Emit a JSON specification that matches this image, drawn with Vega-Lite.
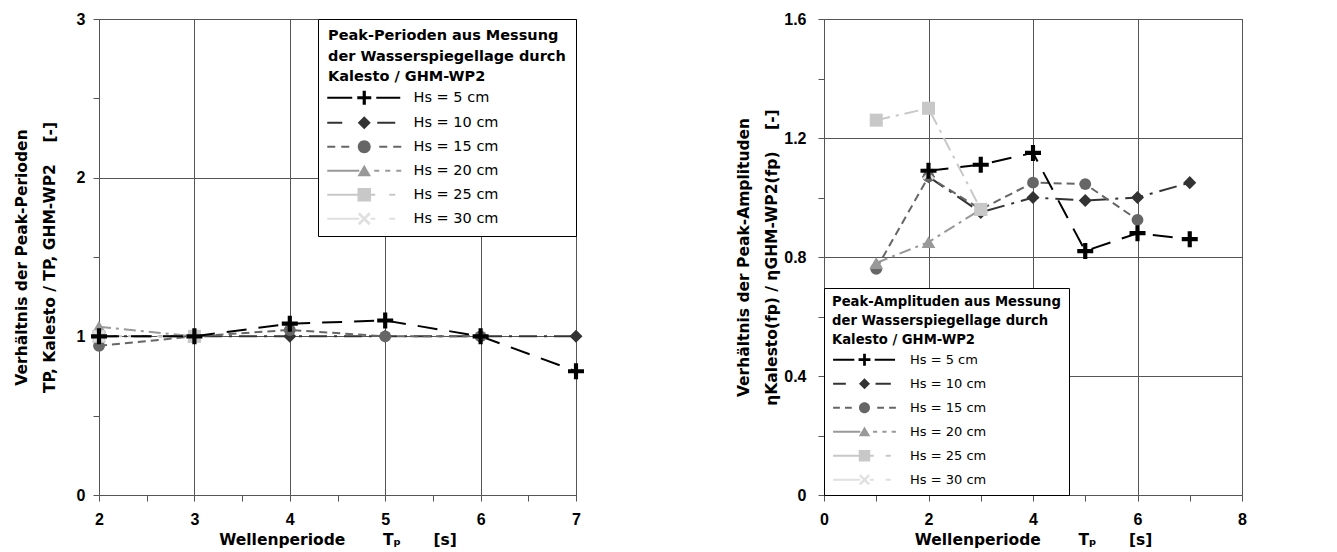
{
  "$schema": "https://vega.github.io/schema/vega-lite/v6.json",
  "background": "white",
  "padding": {"left": 13, "top": 10, "right": 0, "bottom": 0},
  "spacing": 151,
  "datasets": {
    "perioden": [
      {"Hs": "Hs = 10 cm", "T": 2, "v": 1.0},
      {"Hs": "Hs = 10 cm", "T": 3, "v": 1.0},
      {"Hs": "Hs = 10 cm", "T": 4, "v": 1.0},
      {"Hs": "Hs = 10 cm", "T": 5, "v": 1.0},
      {"Hs": "Hs = 10 cm", "T": 6, "v": 1.0},
      {"Hs": "Hs = 10 cm", "T": 7, "v": 1.0},
      {"Hs": "Hs = 15 cm", "T": 2, "v": 0.94},
      {"Hs": "Hs = 15 cm", "T": 3, "v": 1.0},
      {"Hs": "Hs = 15 cm", "T": 4, "v": 1.04},
      {"Hs": "Hs = 15 cm", "T": 5, "v": 1.0},
      {"Hs": "Hs = 15 cm", "T": 6, "v": 1.0},
      {"Hs": "Hs = 20 cm", "T": 2, "v": 1.06},
      {"Hs": "Hs = 20 cm", "T": 3, "v": 1.0},
      {"Hs": "Hs = 25 cm", "T": 2, "v": 1.0},
      {"Hs": "Hs = 25 cm", "T": 3, "v": 1.0},
      {"Hs": "Hs = 30 cm", "T": 2, "v": 1.0},
      {"Hs": "Hs = 5 cm", "T": 2, "v": 1.0},
      {"Hs": "Hs = 5 cm", "T": 3, "v": 1.0},
      {"Hs": "Hs = 5 cm", "T": 4, "v": 1.08},
      {"Hs": "Hs = 5 cm", "T": 5, "v": 1.1},
      {"Hs": "Hs = 5 cm", "T": 6, "v": 1.0},
      {"Hs": "Hs = 5 cm", "T": 7, "v": 0.78}
    ],
    "amplituden": [
      {"Hs": "Hs = 10 cm", "T": 2, "v": 1.07},
      {"Hs": "Hs = 10 cm", "T": 3, "v": 0.95},
      {"Hs": "Hs = 10 cm", "T": 4, "v": 1.0},
      {"Hs": "Hs = 10 cm", "T": 5, "v": 0.99},
      {"Hs": "Hs = 10 cm", "T": 6, "v": 1.0},
      {"Hs": "Hs = 10 cm", "T": 7, "v": 1.05},
      {"Hs": "Hs = 15 cm", "T": 1, "v": 0.76},
      {"Hs": "Hs = 15 cm", "T": 2, "v": 1.07},
      {"Hs": "Hs = 15 cm", "T": 3, "v": 0.96},
      {"Hs": "Hs = 15 cm", "T": 4, "v": 1.05},
      {"Hs": "Hs = 15 cm", "T": 5, "v": 1.045},
      {"Hs": "Hs = 15 cm", "T": 6, "v": 0.925},
      {"Hs": "Hs = 20 cm", "T": 1, "v": 0.78},
      {"Hs": "Hs = 20 cm", "T": 2, "v": 0.85},
      {"Hs": "Hs = 20 cm", "T": 3, "v": 0.96},
      {"Hs": "Hs = 25 cm", "T": 1, "v": 1.26},
      {"Hs": "Hs = 25 cm", "T": 2, "v": 1.3},
      {"Hs": "Hs = 25 cm", "T": 3, "v": 0.96},
      {"Hs": "Hs = 30 cm", "T": 2, "v": 1.08},
      {"Hs": "Hs = 5 cm", "T": 2, "v": 1.09},
      {"Hs": "Hs = 5 cm", "T": 3, "v": 1.11},
      {"Hs": "Hs = 5 cm", "T": 4, "v": 1.15},
      {"Hs": "Hs = 5 cm", "T": 5, "v": 0.82},
      {"Hs": "Hs = 5 cm", "T": 6, "v": 0.88},
      {"Hs": "Hs = 5 cm", "T": 7, "v": 0.86}
    ]
  },
  "hconcat": [
    {
      "width": 477,
      "height": 476,
      "data": {"name": "perioden"},
      "encoding": {
        "x": {
          "field": "T", "type": "quantitative",
          "scale": {"domain": [2, 7], "nice": false, "zero": false},
          "axis": {
            "title": "Wellenperiode\u00a0\u00a0\u00a0\u00a0\u00a0\u00a0\u00a0T\u209a\u00a0\u00a0\u00a0\u00a0\u00a0\u00a0[s]",
            "values": [2, 2.5, 3, 3.5, 4, 4.5, 5, 5.5, 6, 6.5, 7],
            "labelExpr": "datum.value % 1 === 0 ? format(datum.value, 'd') : ''",
            "gridOpacity": {"condition": {"test": "datum.value % 1 !== 0", "value": 0}, "value": 1},
            "labelFlush": false, "labelOverlap": false, "labelPadding": 10, "titlePadding": 5
          }
        },
        "y": {
          "field": "v", "type": "quantitative",
          "scale": {"domain": [0, 3], "nice": false, "zero": false},
          "axis": {
            "title": ["Verh\u00e4ltnis der Peak-Perioden", "TP, Kalesto / TP, GHM-WP2\u00a0\u00a0\u00a0\u00a0[-]"],
            "values": [0, 0.5, 1, 1.5, 2, 2.5, 3],
            "labelExpr": "datum.value % 1 === 0 ? format(datum.value, 'd') : ''",
            "gridOpacity": {"condition": {"test": "datum.value % 1 !== 0", "value": 0}, "value": 1},
            "labelOverlap": false, "labelPadding": 8, "titlePadding": 19
          }
        },
        "color": {
          "field": "Hs", "type": "nominal",
          "scale": {
            "domain": ["Hs = 5 cm", "Hs = 10 cm", "Hs = 15 cm", "Hs = 20 cm", "Hs = 25 cm", "Hs = 30 cm"],
            "range": ["#000000", "#333333", "#666666", "#999999", "#c8c8c8", "#e0e0e0"]
          },
          "legend": {
            "orient": "top-right", "offset": 0,
            "title": ["Peak-Perioden aus Messung", "der Wasserspiegellage durch", "Kalesto / GHM-WP2"],
            "titleFont": "DejaVu Sans", "titleFontSize": 14.5, "titleFontWeight": "bold", "titleColor": "#000000",
            "titleLineHeight": 20.5, "titlePadding": 6, "titleLimit": 400,
            "labelFont": "DejaVu Sans", "labelFontSize": 14.5, "labelColor": "#000000", "labelLimit": 300,
            "strokeColor": "#000000", "fillColor": "#ffffff", "padding": 10,
            "symbolSize": 100, "symbolOffset": 29, "labelOffset": 42, "rowPadding": 9,
            "symbolOpacity": 1, "symbolStrokeWidth": 0
          }
        }
      },
      "layer": [
        {
          "mark": {"type": "line", "strokeWidth": 2},
          "encoding": {
            "strokeDash": {
              "field": "Hs", "type": "nominal", "legend": null,
              "scale": {
                "domain": ["Hs = 5 cm", "Hs = 10 cm", "Hs = 15 cm", "Hs = 20 cm", "Hs = 25 cm", "Hs = 30 cm"],
                "range": [[20, 12], [18, 7, 3, 7], [8, 5], [12, 5, 3, 5], [14, 6, 3, 6], [14, 6, 3, 6]]
              }
            }
          }
        },
        {
          "mark": {"type": "point", "filled": true, "opacity": 1, "strokeWidth": 0},
          "encoding": {
            "shape": {
              "condition": [
                {"test": "datum.Hs === 'Hs = 5 cm'", "value": "M-1,-0.26H-0.26V-1H0.26V-0.26H1V0.26H0.26V1H-0.26V0.26H-1Z"},
                {"test": "datum.Hs === 'Hs = 10 cm'", "value": "diamond"},
                {"test": "datum.Hs === 'Hs = 15 cm'", "value": "circle"},
                {"test": "datum.Hs === 'Hs = 20 cm'", "value": "triangle-up"},
                {"test": "datum.Hs === 'Hs = 25 cm'", "value": "square"}
              ],
              "value": "M-1,-0.7L-0.7,-1L0,-0.3L0.7,-1L1,-0.7L0.3,0L1,0.7L0.7,1L0,0.3L-0.7,1L-1,0.7L-0.3,0Z"
            },
            "size": {
              "condition": [
                {"test": "datum.Hs === 'Hs = 5 cm'", "value": 256},
                {"test": "datum.Hs === 'Hs = 10 cm'", "value": 170},
                {"test": "datum.Hs === 'Hs = 15 cm'", "value": 140},
                {"test": "datum.Hs === 'Hs = 20 cm'", "value": 190},
                {"test": "datum.Hs === 'Hs = 25 cm'", "value": 170}
              ],
              "value": 144
            }
          }
        },
        {
          "transform": [{"filter": "false"}],
          "mark": {"type": "point", "filled": true, "opacity": 1, "strokeWidth": 0},
          "encoding": {
            "shape": {
              "field": "Hs", "type": "nominal",
              "scale": {
                "domain": ["Hs = 5 cm", "Hs = 10 cm", "Hs = 15 cm", "Hs = 20 cm", "Hs = 25 cm", "Hs = 30 cm"],
                "range": [
                  "M-7.4,-0.22H-2.4V0.22H-7.4Z M2.4,-0.22H7.2V0.22H2.4Z M-1.4,-0.32H1.4V0.32H-1.4Z M-0.32,-1.4H0.32V1.4H-0.32Z",
                  "M-7.4,-0.22H-4.4V0.22H-7.4Z M2.6,-0.22H6.2V0.22H2.6Z M0,-1.3L1.3,0L0,1.3L-1.3,0Z",
                  "M-7.4,-0.22H-5.8V0.22H-7.4Z M-4.6,-0.22H-3V0.22H-4.6Z M3,-0.22H4.6V0.22H3Z M5.8,-0.22H7.4V0.22H5.8Z M-1.3,0A1.3,1.3 0 1,0 1.3,0A1.3,1.3 0 1,0 -1.3,0Z",
                  "M-7.4,-0.22H-1V0.22H-7.4Z M0,-1.2L1.35,1.1L-1.35,1.1Z M2,-0.22H3V0.22H2Z M4.2,-0.22H5.2V0.22H4.2Z M6.4,-0.22H7.4V0.22H6.4Z",
                  "M-7.4,-0.22H-1.3V0.22H-7.4Z M-1.35,-1.35H1.35V1.35H-1.35Z M1.3,-0.22H2.2V0.22H1.3Z M5,-0.22H6.2V0.22H5Z",
                  "M-7.4,-0.22H-1V0.22H-7.4Z M-1.3,-0.9L-0.9,-1.3L1.3,0.9L0.9,1.3Z M0.9,-1.3L1.3,-0.9L-0.9,1.3L-1.3,0.9Z M1.3,-0.22H2.2V0.22H1.3Z M5,-0.22H6.2V0.22H5Z"
                ]
              },
              "legend": {
                "orient": "top-right", "offset": 0,
                "title": ["Peak-Perioden aus Messung", "der Wasserspiegellage durch", "Kalesto / GHM-WP2"],
                "titleFont": "DejaVu Sans", "titleFontSize": 14.5, "titleFontWeight": "bold", "titleColor": "#000000",
                "titleLineHeight": 20.5, "titlePadding": 6, "titleLimit": 400,
                "labelFont": "DejaVu Sans", "labelFontSize": 14.5, "labelColor": "#000000", "labelLimit": 300,
                "strokeColor": "#000000", "fillColor": "#ffffff", "padding": 10,
                "symbolSize": 100, "symbolOffset": 29, "labelOffset": 42, "rowPadding": 9,
                "symbolOpacity": 1, "symbolStrokeWidth": 0
              }
            }
          }
        }
      ]
    },
    {
      "width": 418,
      "height": 476,
      "data": {"name": "amplituden"},
      "encoding": {
        "x": {
          "field": "T", "type": "quantitative",
          "scale": {"domain": [0, 8], "nice": false, "zero": false},
          "axis": {
            "title": "Wellenperiode\u00a0\u00a0\u00a0\u00a0\u00a0\u00a0\u00a0T\u209a\u00a0\u00a0\u00a0\u00a0\u00a0\u00a0[s]",
            "values": [0, 1, 2, 3, 4, 5, 6, 7, 8],
            "labelExpr": "datum.value % 2 === 0 ? format(datum.value, 'd') : ''",
            "gridOpacity": {"condition": {"test": "datum.value % 2 !== 0", "value": 0}, "value": 1},
            "labelFlush": false, "labelOverlap": false, "labelPadding": 10, "titlePadding": 5
          }
        },
        "y": {
          "field": "v", "type": "quantitative",
          "scale": {"domain": [0, 1.6], "nice": false, "zero": false},
          "axis": {
            "title": ["Verh\u00e4ltnis der Peak-Amplituden", "\u03b7Kalesto(fp) / \u03b7GHM-WP2(fp)\u00a0\u00a0\u00a0\u00a0[-]"],
            "values": [0, 0.2, 0.4, 0.6, 0.8, 1, 1.2, 1.4, 1.6],
            "labelExpr": "indexof([0, 0.4, 0.8, 1.2, 1.6], datum.value) >= 0 ? (datum.value == 0 ? '0' : format(datum.value, '.1f')) : ''",
            "gridOpacity": {"condition": {"test": "indexof([0, 0.4, 0.8, 1.2, 1.6], datum.value) < 0", "value": 0}, "value": 1},
            "labelOverlap": false, "labelPadding": 12, "titlePadding": 4
          }
        },
        "color": {
          "field": "Hs", "type": "nominal",
          "scale": {
            "domain": ["Hs = 5 cm", "Hs = 10 cm", "Hs = 15 cm", "Hs = 20 cm", "Hs = 25 cm", "Hs = 30 cm"],
            "range": ["#000000", "#333333", "#666666", "#999999", "#c8c8c8", "#e0e0e0"]
          },
          "legend": {
            "orient": "bottom-left", "offset": 0,
            "title": ["Peak-Amplituden aus Messung", "der Wasserspiegellage durch", "Kalesto / GHM-WP2"],
            "titleFont": "DejaVu Sans", "titleFontSize": 13.2, "titleFontWeight": "bold", "titleColor": "#000000",
            "titleLineHeight": 19, "titlePadding": 6, "titleLimit": 400,
            "labelFont": "DejaVu Sans", "labelFontSize": 13, "labelColor": "#000000", "labelLimit": 300,
            "strokeColor": "#000000", "fillColor": "#ffffff", "padding": 8,
            "symbolSize": 72, "symbolOffset": 26, "labelOffset": 39, "rowPadding": 10,
            "symbolOpacity": 1, "symbolStrokeWidth": 0
          }
        }
      },
      "layer": [
        {
          "mark": {"type": "line", "strokeWidth": 2},
          "encoding": {
            "strokeDash": {
              "field": "Hs", "type": "nominal", "legend": null,
              "scale": {
                "domain": ["Hs = 5 cm", "Hs = 10 cm", "Hs = 15 cm", "Hs = 20 cm", "Hs = 25 cm", "Hs = 30 cm"],
                "range": [[20, 12], [18, 7, 3, 7], [8, 5], [12, 5, 3, 5], [14, 6, 3, 6], [14, 6, 3, 6]]
              }
            }
          }
        },
        {
          "mark": {"type": "point", "filled": true, "opacity": 1, "strokeWidth": 0},
          "encoding": {
            "shape": {
              "condition": [
                {"test": "datum.Hs === 'Hs = 5 cm'", "value": "M-1,-0.26H-0.26V-1H0.26V-0.26H1V0.26H0.26V1H-0.26V0.26H-1Z"},
                {"test": "datum.Hs === 'Hs = 10 cm'", "value": "diamond"},
                {"test": "datum.Hs === 'Hs = 15 cm'", "value": "circle"},
                {"test": "datum.Hs === 'Hs = 20 cm'", "value": "triangle-up"},
                {"test": "datum.Hs === 'Hs = 25 cm'", "value": "square"}
              ],
              "value": "M-1,-0.7L-0.7,-1L0,-0.3L0.7,-1L1,-0.7L0.3,0L1,0.7L0.7,1L0,0.3L-0.7,1L-1,0.7L-0.3,0Z"
            },
            "size": {
              "condition": [
                {"test": "datum.Hs === 'Hs = 5 cm'", "value": 256},
                {"test": "datum.Hs === 'Hs = 10 cm'", "value": 170},
                {"test": "datum.Hs === 'Hs = 15 cm'", "value": 140},
                {"test": "datum.Hs === 'Hs = 20 cm'", "value": 190},
                {"test": "datum.Hs === 'Hs = 25 cm'", "value": 170}
              ],
              "value": 144
            }
          }
        },
        {
          "transform": [{"filter": "false"}],
          "mark": {"type": "point", "filled": true, "opacity": 1, "strokeWidth": 0},
          "encoding": {
            "shape": {
              "field": "Hs", "type": "nominal",
              "scale": {
                "domain": ["Hs = 5 cm", "Hs = 10 cm", "Hs = 15 cm", "Hs = 20 cm", "Hs = 25 cm", "Hs = 30 cm"],
                "range": [
                  "M-7.4,-0.22H-2.4V0.22H-7.4Z M2.4,-0.22H7.2V0.22H2.4Z M-1.4,-0.32H1.4V0.32H-1.4Z M-0.32,-1.4H0.32V1.4H-0.32Z",
                  "M-7.4,-0.22H-4.4V0.22H-7.4Z M2.6,-0.22H6.2V0.22H2.6Z M0,-1.3L1.3,0L0,1.3L-1.3,0Z",
                  "M-7.4,-0.22H-5.8V0.22H-7.4Z M-4.6,-0.22H-3V0.22H-4.6Z M3,-0.22H4.6V0.22H3Z M5.8,-0.22H7.4V0.22H5.8Z M-1.3,0A1.3,1.3 0 1,0 1.3,0A1.3,1.3 0 1,0 -1.3,0Z",
                  "M-7.4,-0.22H-1V0.22H-7.4Z M0,-1.2L1.35,1.1L-1.35,1.1Z M2,-0.22H3V0.22H2Z M4.2,-0.22H5.2V0.22H4.2Z M6.4,-0.22H7.4V0.22H6.4Z",
                  "M-7.4,-0.22H-1.3V0.22H-7.4Z M-1.35,-1.35H1.35V1.35H-1.35Z M1.3,-0.22H2.2V0.22H1.3Z M5,-0.22H6.2V0.22H5Z",
                  "M-7.4,-0.22H-1V0.22H-7.4Z M-1.3,-0.9L-0.9,-1.3L1.3,0.9L0.9,1.3Z M0.9,-1.3L1.3,-0.9L-0.9,1.3L-1.3,0.9Z M1.3,-0.22H2.2V0.22H1.3Z M5,-0.22H6.2V0.22H5Z"
                ]
              },
              "legend": {
                "orient": "bottom-left", "offset": 0,
                "title": ["Peak-Amplituden aus Messung", "der Wasserspiegellage durch", "Kalesto / GHM-WP2"],
                "titleFont": "DejaVu Sans", "titleFontSize": 13.2, "titleFontWeight": "bold", "titleColor": "#000000",
                "titleLineHeight": 19, "titlePadding": 6, "titleLimit": 400,
                "labelFont": "DejaVu Sans", "labelFontSize": 13, "labelColor": "#000000", "labelLimit": 300,
                "strokeColor": "#000000", "fillColor": "#ffffff", "padding": 8,
                "symbolSize": 72, "symbolOffset": 26, "labelOffset": 39, "rowPadding": 10,
                "symbolOpacity": 1, "symbolStrokeWidth": 0
              }
            }
          }
        }
      ]
    }
  ],
  "resolve": {
    "scale": {"x": "independent", "y": "independent", "color": "independent", "shape": "independent", "strokeDash": "independent"},
    "legend": {"color": "independent", "shape": "independent"}
  },
  "config": {
    "view": {"stroke": "#555555", "strokeWidth": 1},
    "axis": {
      "labelFont": "Liberation Sans", "labelFontSize": 16, "labelFontWeight": "bold", "labelColor": "#000000",
      "titleFont": "DejaVu Sans", "titleFontSize": 15.5, "titleFontWeight": "bold", "titleColor": "#000000",
      "titleLineHeight": 28,
      "domainColor": "#555555", "tickColor": "#555555", "gridColor": "#555555", "gridOpacity": 1, "grid": true,
      "tickSize": 6
    }
  }
}
